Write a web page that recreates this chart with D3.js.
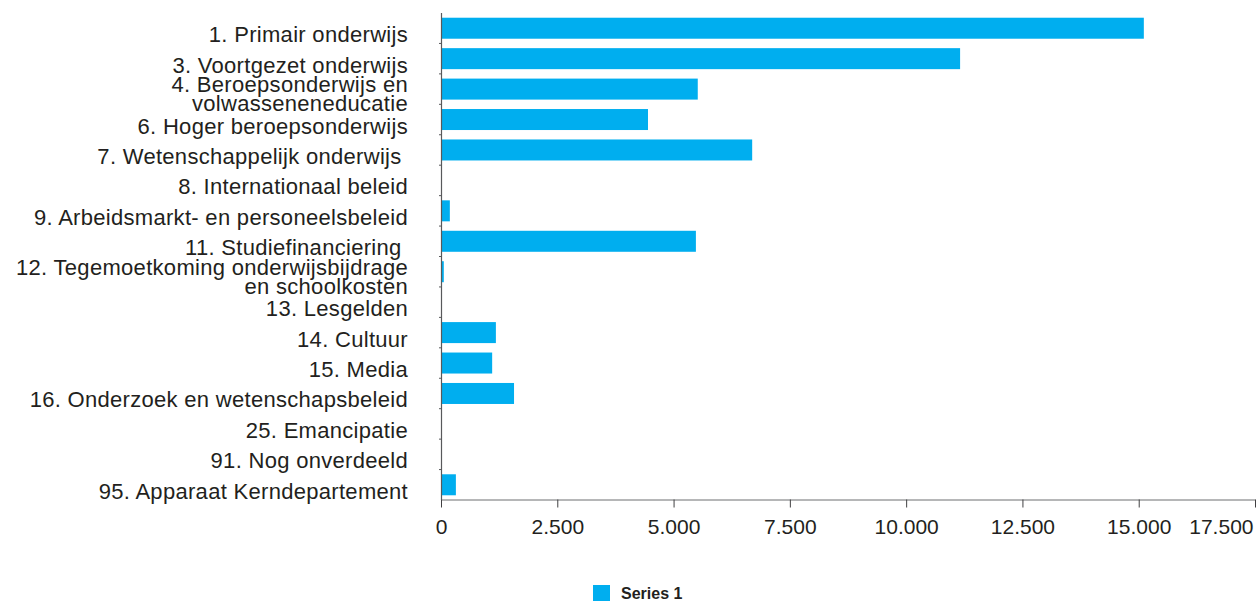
<!DOCTYPE html>
<html>
<head>
<meta charset="utf-8">
<script src="https://cdn.jsdelivr.net/npm/d3@7"></script>
<style>
  body { margin: 0; background: #fff; }
  text { font-family: "Liberation Sans", Arial, sans-serif; fill: #231f20; }
</style>
</head>
<body>
<div id="chart"></div>
<script>
// chart data
const categories = [
  "1. Primair onderwijs",
  "3. Voortgezet onderwijs",
  "4. Beroepsonderwijs en\nvolwasseneneducatie",
  "6. Hoger beroepsonderwijs",
  "7. Wetenschappelijk onderwijs ",
  "8. Internationaal beleid",
  "9. Arbeidsmarkt- en personeelsbeleid",
  "11. Studiefinanciering ",
  "12. Tegemoetkoming onderwijsbijdrage\nen schoolkosten",
  "13. Lesgelden",
  "14. Cultuur",
  "15. Media",
  "16. Onderzoek en wetenschapsbeleid",
  "25. Emancipatie",
  "91. Nog onverdeeld",
  "95. Apparaat Kerndepartement"
];
const values = [15110, 11160, 5520, 4450, 6690, 0, 190, 5480, 60, 0, 1180, 1100, 1570, 0, 0, 320];
const xTicks = [0, 2500, 5000, 7500, 10000, 12500, 15000, 17500];
const seriesName = "Series 1";

const width = 1256, height = 601;
const barColor = "#00aeef";

const svg = d3.select("#chart").append("svg")
  .attr("width", width)
  .attr("height", height);

const x = d3.scaleLinear().domain([0, 17500]).range([441, 1255]);
const y = d3.scaleBand().domain(categories).range([13, 500])
  .paddingInner(0.31).paddingOuter(0.155);

const nl = d3.formatLocale({ decimal: ",", thousands: ".", grouping: [3], currency: ["€", ""] });
const fmt = nl.format(",.0f");

// bars
svg.append("g").selectAll("rect")
  .data(values)
  .join("rect")
  .attr("x", x(0))
  .attr("y", (d, i) => y(categories[i]))
  .attr("width", d => x(d) - x(0))
  .attr("height", y.bandwidth())
  .attr("fill", barColor);

// x axis
const xAxis = svg.append("g")
  .attr("transform", "translate(0,499.5)")
  .call(d3.axisBottom(x).tickValues(xTicks).tickSize(8).tickSizeOuter(0).tickPadding(12).tickFormat(fmt));
xAxis.select(".domain").attr("stroke", "#6d6e71");
xAxis.selectAll(".tick line").attr("stroke", "#414042");
xAxis.selectAll(".tick text")
  .style("font-size", "21px")
  .attr("fill", "#231f20")
  .attr("text-anchor", d => d === 17500 ? "end" : "middle")
  .attr("dx", d => d === 17500 ? -2 : 0);

// y axis line with small ticks between categories
const step = y.step();
svg.append("line")
  .attr("x1", 441.5).attr("x2", 441.5)
  .attr("y1", 13).attr("y2", 500)
  .attr("stroke", "#58595b").attr("stroke-width", 1.2);
svg.append("g").selectAll("line")
  .data(d3.range(1, categories.length))
  .join("line")
  .attr("x1", 439).attr("x2", 441.5)
  .attr("y1", k => 13 + k * step).attr("y2", k => 13 + k * step)
  .attr("stroke", "#58595b");

// category labels
const labels = svg.append("g").selectAll("text")
  .data(categories)
  .join("text")
  .attr("x", 408)
  .attr("y", d => y(d) + y.bandwidth() / 2)
  .attr("text-anchor", "end")
  .style("font-size", "22px")
  .style("letter-spacing", "0.3px")
  .style("white-space", "pre");
labels.each(function(d) {
  const lines = d.split("\n");
  const t = d3.select(this);
  lines.forEach((ln, j) => {
    t.append("tspan")
      .attr("x", 408)
      .attr("dy", lines.length > 1 ? (j === 0 ? 3 : 19) : 14)
      .text(ln);
  });
});

// legend
svg.append("rect")
  .attr("x", 593).attr("y", 585)
  .attr("width", 17).attr("height", 17)
  .attr("fill", barColor);
svg.append("text")
  .attr("x", 621).attr("y", 599)
  .style("font-size", "16px")
  .style("font-weight", "bold")
  .text(seriesName);
</script>
</body>
</html>
